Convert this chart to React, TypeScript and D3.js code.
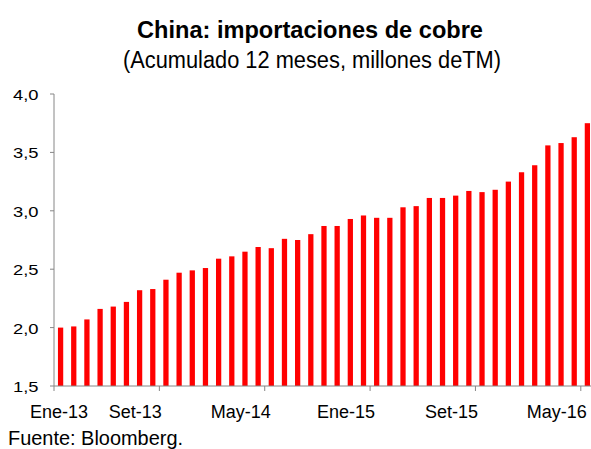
import React from "react";
import * as d3 from "d3";

const months = ["Ene","Feb","Mar","Abr","May","Jun","Jul","Ago","Set","Oct","Nov","Dic"];
const startYear = 13;
const values = [
  2.00, 2.01, 2.07, 2.16, 2.18, 2.22, 2.32, 2.33, 2.41, 2.47, 2.49, 2.51,
  2.59, 2.61, 2.65, 2.69, 2.68, 2.76, 2.75, 2.80, 2.87, 2.87, 2.93, 2.96,
  2.94, 2.94, 3.03, 3.04, 3.11, 3.11, 3.13, 3.17, 3.16, 3.18, 3.25, 3.33,
  3.39, 3.56, 3.58, 3.63, 3.75,
];
const categories = values.map((_, i) => `${months[i % 12]}-${startYear + Math.floor(i / 12)}`);
const labelStep = 8;
const yTicks = [1.5, 2.0, 2.5, 3.0, 3.5, 4.0];
const title = "China: importaciones de cobre";
const subtitle = "(Acumulado 12 meses, millones deTM)";
const source = "Fuente: Bloomberg.";

export default function App() {
  const W = 591, H = 449;
  const left = 54, top = 94, bottom = 386;
  const step = 13.17;
  const right = left + step * values.length;
  const x = d3.scaleBand<string>().domain(categories).range([left, right]).paddingInner(0.6).paddingOuter(0.3);
  const y = d3.scaleLinear().domain([1.5, 4.0]).range([bottom, top]);
  const fmt = (v: number) => v.toFixed(1).replace(".", ",");
  const axisColor = "#868686";
  const boundary = (i: number) => left + i * (right - left) / values.length;
  const tickIdx = d3.range(0, values.length, labelStep);
  return (
    <svg width={W} height={H} style={{ position: "absolute", left: 0, top: 0, display: "block" }}
      fontFamily="'Liberation Sans', Arial, sans-serif">
      <rect width={W} height={H} fill="#fff" />
      <text x={137} y={38} fontSize={24} fontWeight="bold" fill="#000" textLength={346} lengthAdjust="spacingAndGlyphs">{title}</text>
      <text x={123} y={67.5} fontSize={23} fill="#000" textLength={378} lengthAdjust="spacingAndGlyphs">{subtitle}</text>
      {values.map((v, i) => (
        <rect key={i} x={x(categories[i])} y={y(v)} width={x.bandwidth()} height={bottom - y(v)} fill="#FF0000" />
      ))}
      <line x1={left} x2={left} y1={top} y2={bottom} stroke={axisColor} strokeWidth={1} />
      {yTicks.map((t) => (
        <g key={t}>
          <line x1={left - 4} x2={left} y1={y(t)} y2={y(t)} stroke={axisColor} />
          <text x={13} y={y(t) + 6} fontSize={15.5} fill="#000" textLength={25.5} lengthAdjust="spacingAndGlyphs">{fmt(t)}</text>
        </g>
      ))}
      <line x1={left} x2={W} y1={bottom} y2={bottom} stroke={axisColor} strokeWidth={1} />
      {tickIdx.map((i, k) => {
        const bx = boundary(i);
        const cx = k === 0 ? bx + 5 : bx - 24;
        return (
          <g key={i}>
            <line x1={bx} x2={bx} y1={bottom} y2={bottom + 5} stroke={axisColor} />
            <text x={cx} y={418} textAnchor="middle" fontSize={18} fill="#000">{categories[i]}</text>
          </g>
        );
      })}
      <text x={8} y={445} fontSize={21} fill="#000" textLength={175} lengthAdjust="spacingAndGlyphs">{source}</text>
    </svg>
  );
}
